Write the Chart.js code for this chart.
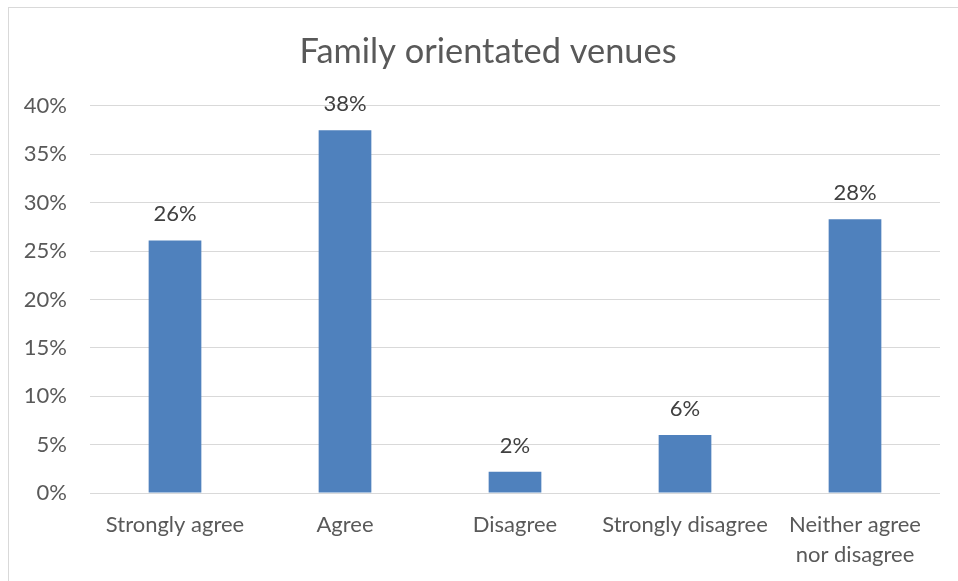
<!DOCTYPE html>
<html>
<head>
<meta charset="utf-8">
<script src="https://cdn.jsdelivr.net/npm/chart.js@4/dist/chart.umd.min.js"></script>
<style>
  html, body { margin: 0; padding: 0; background: #fff; overflow: hidden; width: 958px; height: 581px; }
  #wrap { position: absolute; left: 0; top: 0; width: 976px; height: 581px; }
  #frame { position: absolute; left: 8px; top: 7px; width: 970px; height: 590px; border: 1px solid #d9d9d9; pointer-events: none; }
</style>
</head>
<body>
<div id="frame"></div>
<div id="wrap"><canvas id="c" width="976" height="581"></canvas></div>
<script>
const chartTitle = "Family orientated venues";
const categories = ["Strongly agree", "Agree", "Disagree", "Strongly disagree", ["Neither agree", "nor disagree"]];
const values = [26.1, 37.5, 2.2, 6.0, 28.3];
const yTicks = [0, 5, 10, 15, 20, 25, 30, 35, 40];

const FONT = "Lato, 'Open Sans', sans-serif";

const dataLabels = {
  id: 'dataLabels',
  afterDatasetsDraw(chart) {
    const ctx = chart.ctx;
    const meta = chart.getDatasetMeta(0);
    ctx.save();
    ctx.font = "22px " + FONT;
    ctx.fillStyle = '#404040';
    ctx.textAlign = 'center';
    ctx.textBaseline = 'alphabetic';
    meta.data.forEach((bar, i) => {
      ctx.fillText(Math.round(values[i]) + '%', bar.x, bar.y - 19);
    });
    ctx.restore();
  }
};

// let the y tick labels extend into the left padding (avoid label clipping)
const widenYLabelArea = {
  id: 'widenYLabelArea',
  afterLayout(chart) {
    if (chart.scales.y) chart.scales.y.left = 0;
  }
};

new Chart(document.getElementById('c'), {
  type: 'bar',
  data: {
    labels: categories,
    datasets: [{
      data: values,
      backgroundColor: '#4F81BD',
      borderWidth: 0,
      categoryPercentage: 1,
      barPercentage: 0.31
    }]
  },
  options: {
    responsive: false,
    devicePixelRatio: 1,
    animation: false,
    layout: { padding: { left: 36, right: 36, top: 0, bottom: 0 } },
    plugins: {
      legend: { display: false },
      tooltip: { enabled: false },
      title: {
        display: true,
        text: chartTitle,
        color: '#595959',
        font: { family: FONT, size: 34.4, weight: 'normal', lineHeight: 1.2 },
        padding: { top: 31, bottom: 33.7 }
      }
    },
    scales: {
      x: {
        grid: { display: false, drawTicks: false },
        border: { display: false },
        ticks: {
          color: '#595959',
          font: { family: FONT, size: 22, lineHeight: 1.364 },
          padding: 17,
          maxRotation: 0,
          autoSkip: false
        },
        afterFit(scale) { scale.height = 88; }
      },
      y: {
        min: 0,
        max: 40,
        afterBuildTicks(scale) { scale.ticks = yTicks.map(v => ({ value: v })); },
        grid: { color: '#d9d9d9', lineWidth: 1, drawTicks: false },
        border: { display: false },
        ticks: {
          color: '#595959',
          font: { family: FONT, size: 22 },
          padding: 23,
          callback: v => v + '%'
        },
        afterFit(scale) { scale.width = 54; }
      }
    }
  },
  plugins: [dataLabels, widenYLabelArea]
});
</script>
</body>
</html>
